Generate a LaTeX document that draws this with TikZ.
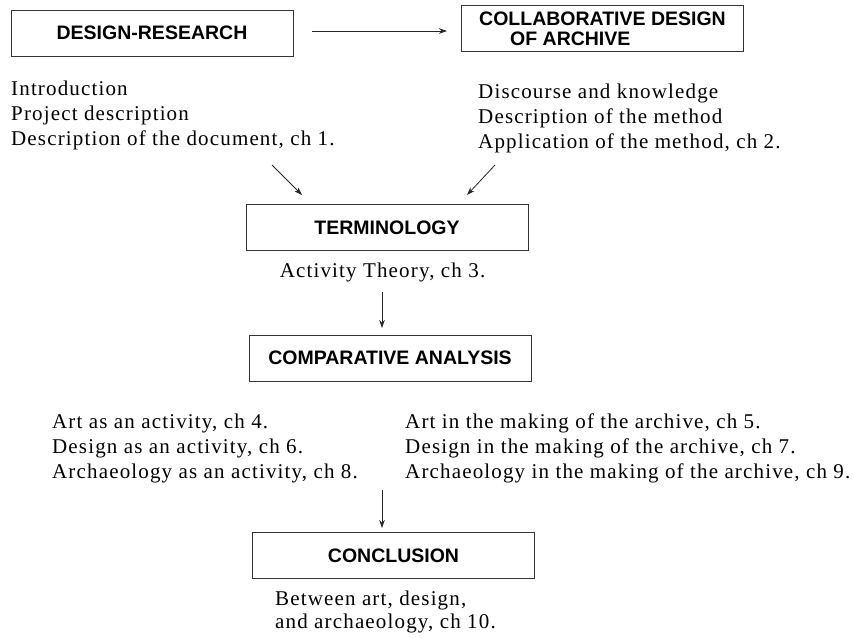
\documentclass[tikz,border=0pt]{standalone}
\usepackage{fontspec}
\setmainfont{Liberation Serif}[LetterSpace=5.5]
\newfontfamily\boxfont{Liberation Sans}
\usetikzlibrary{arrows.meta}

\begin{document}
\begin{tikzpicture}[x=1pt,y=-1pt,
  stagebox/.style={draw=black!80, line width=1pt, minimum width=282pt,
    minimum height=46pt, inner sep=0pt, align=left,
    font=\boxfont\bfseries\fontsize{19.5}{20}\selectfont},
  note/.style={anchor=base west, inner sep=0pt,
    font=\fontsize{21}{24}\selectfont},
  arr/.style={draw=black!85, line width=0.8pt,
    -{Stealth[length=8pt,width=5.5pt]}}]
\useasboundingbox (0,0) rectangle (853,637);

% stage boxes
\node[stagebox] (dr)   at (152,33)    {DESIGN-RESEARCH};
\node[stagebox] (ca)   at (602.5,28.5) {COLLABORATIVE DESIGN\\\hspace*{31pt}OF ARCHIVE};
\node[stagebox] (term) at (387,227.5) {TERMINOLOGY};
\node[stagebox] (comp) at (390,358)   {COMPARATIVE ANALYSIS};
\node[stagebox] (conc) at (393.5,555.5) {CONCLUSION};

% chapter notes
\node[note] (dr1) at (11,95)  {Introduction};
\node[note] (dr2) at (11,120) {Project description};
\node[note] (dr3) at (11,145) {Description of the document, ch 1.};

\node[note] (ca1) at (478,98)  {Discourse and knowledge};
\node[note] (ca2) at (478,123) {Description of the method};
\node[note] (ca3) at (478,148) {Application of the method, ch 2.};

\node[note, anchor=base] (te1) at (382.5,277) {Activity Theory, ch 3.};

\node[note] (cl1) at (52,428) {Art as an activity, ch 4.};
\node[note] (cl2) at (52,453) {Design as an activity, ch 6.};
\node[note] (cl3) at (52,478) {Archaeology as an activity, ch 8.};

\node[note] (cr1) at (405,428) {Art in the making of the archive, ch 5.};
\node[note] (cr2) at (405,453) {Design in the making of the archive, ch 7.};
\node[note] (cr3) at (405,478) {Archaeology in the making of the archive, ch 9.};

\node[note] (co1) at (275,605) {Between art, design,};
\node[note] (co2) at (275,628) {and archaeology, ch 10.};

% connector ends
\coordinate (h1) at (312,31);
\coordinate (h2) at (447,31);
\coordinate (d1) at (272,165);
\coordinate (d2) at (302,195);
\coordinate (d3) at (495,165);
\coordinate (d4) at (467,195);
\coordinate (v1) at (382,292);
\coordinate (v2) at (382,328);
\coordinate (v3) at (382,490);
\coordinate (v4) at (382,528);

\draw[arr] (h1) -- (h2);
\draw[arr] (d1) -- (d2);
\draw[arr] (d3) -- (d4);
\draw[arr] (v1) -- (v2);
\draw[arr] (v3) -- (v4);
\end{tikzpicture}
\end{document}
